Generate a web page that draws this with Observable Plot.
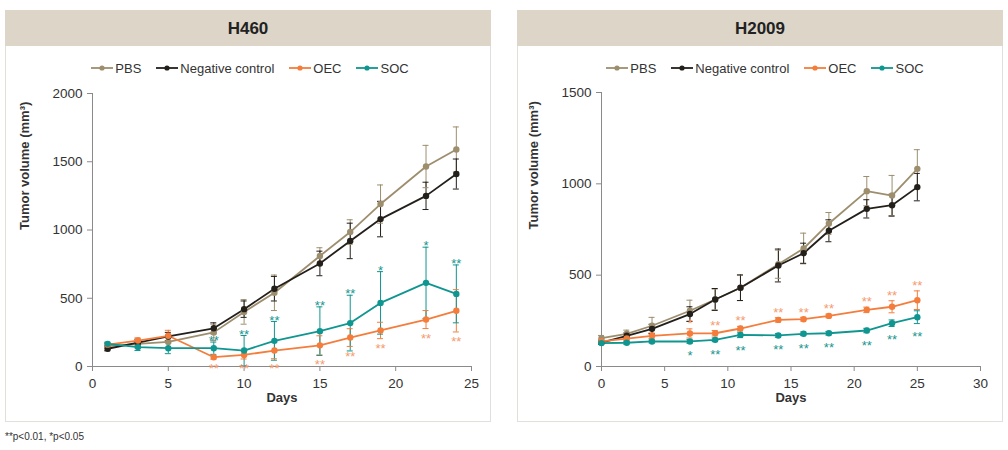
<!DOCTYPE html>
<html>
<head>
<meta charset="utf-8">
<script src="https://cdn.jsdelivr.net/npm/d3@7"></script>
<script src="https://cdn.jsdelivr.net/npm/@observablehq/plot@0.6"></script>
<style>
  html, body { margin: 0; padding: 0; background: #fff; }
  body { width: 1008px; height: 450px; position: relative; overflow: hidden;
         font-family: "Liberation Sans", Arial, sans-serif; color: #333; }
  .panel { position: absolute; top: 10px; height: 412px; box-sizing: border-box;
           border: 1.5px solid #e2dfda; border-top: none; }
  .title { position: absolute; top: 10px; height: 36px; line-height: 38px; background: #ddd5c8;
           text-align: center; font-weight: bold; font-size: 17px; color: #222; }
  .legend { position: absolute; top: 59px; height: 18px; display: flex; justify-content: center;
            align-items: center; font-size: 13px; color: #333; gap: 15px; }
  .legend .item { display: flex; align-items: center; gap: 2px; }
  .chart { position: absolute; top: 80px; }
  .note { position: absolute; left: 5px; top: 431px; font-size: 10px; color: #333; }
</style>
</head>
<body>
<div class="panel" style="left:5px;width:486px;"></div>
<div class="panel" style="left:517px;width:486px;"></div>
<div class="title" id="t1" style="left:5px;width:486px;"></div>
<div class="title" id="t2" style="left:517px;width:486px;"></div>
<div class="legend" id="lg1" style="left:2px;width:496px;"></div>
<div class="legend" id="lg2" style="left:517px;width:496px;"></div>
<div class="chart" id="c1" style="left:5px;"></div>
<div class="chart" id="c2" style="left:517px;"></div>
<div class="note" id="note"></div>
<script>
// ---------- data ----------
const seriesNames = ["PBS", "Negative control", "OEC", "SOC"];
const seriesColors = ["#9d8e6e", "#231f1b", "#f47d3c", "#0f9690"];
const sigColors = { "OEC": "#f59a6e", "SOC": "#17968f" };

const panelTitles = ["H460", "H2009"];
const footnote = "**p<0.01, *p<0.05";
const xLabel = "Days";
const yLabel = "Tumor volume (mm³)";

// H460
const h460Days = [1, 3, 5, 8, 10, 12, 15, 17, 19, 22, 24];
const h460XTicks = [0, 5, 10, 15, 20, 25];
const h460YTicks = [0, 500, 1000, 1500, 2000];
const h460PBS      = [150, 165, 180, 250, 400, 540, 810, 985, 1190, 1465, 1590];
const h460PBSErr   = [20, 30, 40, 60, 90, 130, 60, 90, 140, 155, 165];
const h460Neg      = [130, 175, 220, 280, 420, 570, 755, 920, 1080, 1250, 1410];
const h460NegErr   = [15, 25, 30, 40, 60, 90, 90, 130, 130, 100, 110];
const h460OEC      = [160, 190, 225, 68, 85, 117, 155, 212, 264, 344, 408];
const h460OECErr   = [10, 20, 40, 14, 30, 60, 70, 65, 60, 66, 155];
const h460SOC      = [166, 142, 134, 134, 117, 188, 259, 318, 466, 613, 532];
const h460SOCErr   = [12, 25, 40, 45, 110, 142, 178, 204, 229, 261, 212];
const h460OECSig   = ["", "", "", "**", "**", "**", "**", "**", "**", "**", "**"];
const h460SOCSig   = ["", "", "", "**", "**", "**", "**", "**", "*", "*", "**"];

// H2009
const h2009Days = [0, 2, 4, 7, 9, 11, 14, 16, 18, 21, 23, 25];
const h2009XTicks = [0, 5, 10, 15, 20, 25, 30];
const h2009YTicks = [0, 500, 1000, 1500];
const h2009PBS     = [155, 179, 223, 305, 367, 431, 560, 646, 783, 960, 936, 1082];
const h2009PBSErr  = [15, 20, 46, 58, 57, 70, 77, 84, 60, 80, 110, 105];
const h2009Neg     = [131, 168, 206, 287, 367, 431, 553, 620, 743, 863, 883, 982];
const h2009NegErr  = [10, 15, 25, 40, 60, 70, 90, 55, 60, 50, 60, 75];
const h2009OEC     = [137, 153, 168, 181, 182, 208, 255, 259, 277, 310, 327, 363];
const h2009OECErr  = [10, 10, 15, 25, 15, 12, 12, 10, 10, 15, 33, 51];
const h2009SOC     = [128, 130, 137, 137, 146, 173, 170, 179, 182, 197, 237, 270];
const h2009SOCErr  = [8, 8, 8, 10, 10, 15, 10, 10, 10, 12, 18, 35];
const h2009OECSig  = ["", "", "", "*", "**", "**", "**", "**", "**", "**", "**", "**"];
const h2009SOCSig  = ["", "", "", "*", "**", "**", "**", "**", "**", "**", "**", "**"];

// ---------- build ----------
function rowsFor(days, vals, errs, sigs) {
  const out = [];
  seriesNames.forEach((s, i) => {
    days.forEach((d, j) => {
      out.push({ series: s, day: d, value: vals[i][j], err: errs[i][j], sig: sigs[i] ? sigs[i][j] : "" });
    });
  });
  return out;
}

const axisStroke = "#8a8a8a";

function makeChart(cfg) {
  const rows = rowsFor(cfg.days, cfg.vals, cfg.errs, cfg.sigs);
  const above = rows.filter(d => d.series === cfg.aboveSeries && d.sig);
  const below = rows.filter(d => d.series === cfg.belowSeries && d.sig);
  return Plot.plot({
    width: cfg.width, height: 338,
    marginLeft: cfg.marginLeft, marginRight: cfg.marginRight, marginTop: cfg.marginTop, marginBottom: 52,
    style: { fontFamily: "Liberation Sans, Arial, sans-serif", color: "#333", background: "transparent", overflow: "visible" },
    x: { domain: cfg.xDomain },
    y: { domain: cfg.yDomain },
    color: { domain: seriesNames, range: seriesColors },
    marks: [
      Plot.ruleY([0], { stroke: axisStroke }),
      Plot.ruleX([cfg.xDomain[0]], { stroke: axisStroke }),
      Plot.axisY({ ticks: cfg.yTicks, tickSize: 5, tickPadding: 5, fontSize: 13.5, stroke: axisStroke, label: null, tickFormat: d => String(d) }),
      Plot.axisX({ ticks: cfg.xTicks, tickSize: 5, tickPadding: 7, fontSize: 13.5, stroke: axisStroke, label: null, tickFormat: d => String(d) }),
      Plot.text([cfg.yLabel], { frameAnchor: "left", rotate: -90, dx: -cfg.yLabelOffset, fontSize: 13, fontWeight: "bold", fill: "#333" }),
      Plot.text([cfg.xLabel], { frameAnchor: "bottom", dy: 35, fontSize: 13, fontWeight: "bold", fill: "#333" }),
      // error bars
      Plot.ruleX(rows, { x: "day", y1: d => d.value - d.err, y2: d => d.value + d.err, stroke: "series", strokeWidth: 1 }),
      Plot.ruleY(rows, { y: d => d.value + d.err, x1: "day", x2: "day", insetLeft: -3, insetRight: -3, stroke: "series", strokeWidth: 1 }),
      Plot.ruleY(rows, { y: d => d.value - d.err, x1: "day", x2: "day", insetLeft: -3, insetRight: -3, stroke: "series", strokeWidth: 1 }),
      // lines & points
      Plot.line(rows, { x: "day", y: "value", z: "series", stroke: "series", strokeWidth: 1.8 }),
      Plot.dot(rows, { x: "day", y: "value", fill: "series", r: 3.2 }),
      // significance marks
      Plot.text(above, { x: "day", y: d => d.value + d.err, text: "sig", dy: cfg.aboveDy, lineAnchor: "middle", fontSize: 13, fill: sigColors[cfg.aboveSeries] }),
      Plot.text(below, { x: "day", y: d => d.value - d.err, text: "sig", dy: cfg.belowDy, lineAnchor: "middle", fontSize: 13, fill: sigColors[cfg.belowSeries] })
    ]
  });
}

function legend(el) {
  seriesNames.forEach((s, i) => {
    const item = document.createElement("div");
    item.className = "item";
    item.innerHTML = `<svg width="22" height="10"><line x1="0" y1="5" x2="22" y2="5" stroke="${seriesColors[i]}" stroke-width="1.8"/><circle cx="11" cy="5" r="2.6" fill="${seriesColors[i]}"/></svg><span>${s}</span>`;
    el.appendChild(item);
  });
}

document.getElementById("t1").textContent = panelTitles[0];
document.getElementById("t2").textContent = panelTitles[1];
document.getElementById("note").textContent = footnote;
legend(document.getElementById("lg1"));
legend(document.getElementById("lg2"));

document.getElementById("c1").appendChild(makeChart({
  width: 485, marginLeft: 87, marginRight: 19, marginTop: 13,
  xDomain: [0, 25], yDomain: [0, 2000], xTicks: h460XTicks, yTicks: h460YTicks,
  days: h460Days,
  vals: [h460PBS, h460Neg, h460OEC, h460SOC],
  errs: [h460PBSErr, h460NegErr, h460OECErr, h460SOCErr],
  sigs: [null, null, h460OECSig, h460SOCSig],
  aboveSeries: "SOC", belowSeries: "OEC", aboveDy: -1, belowDy: 10,
  xLabel, yLabel, yLabelOffset: 68
}));

document.getElementById("c2").appendChild(makeChart({
  width: 485, marginLeft: 84, marginRight: 22, marginTop: 12,
  xDomain: [0, 30], yDomain: [0, 1500], xTicks: h2009XTicks, yTicks: h2009YTicks,
  days: h2009Days,
  vals: [h2009PBS, h2009Neg, h2009OEC, h2009SOC],
  errs: [h2009PBSErr, h2009NegErr, h2009OECErr, h2009SOCErr],
  sigs: [null, null, h2009OECSig, h2009SOCSig],
  aboveSeries: "OEC", belowSeries: "SOC", aboveDy: -5, belowDy: 13,
  xLabel, yLabel, yLabelOffset: 68
}));
</script>
</body>
</html>
